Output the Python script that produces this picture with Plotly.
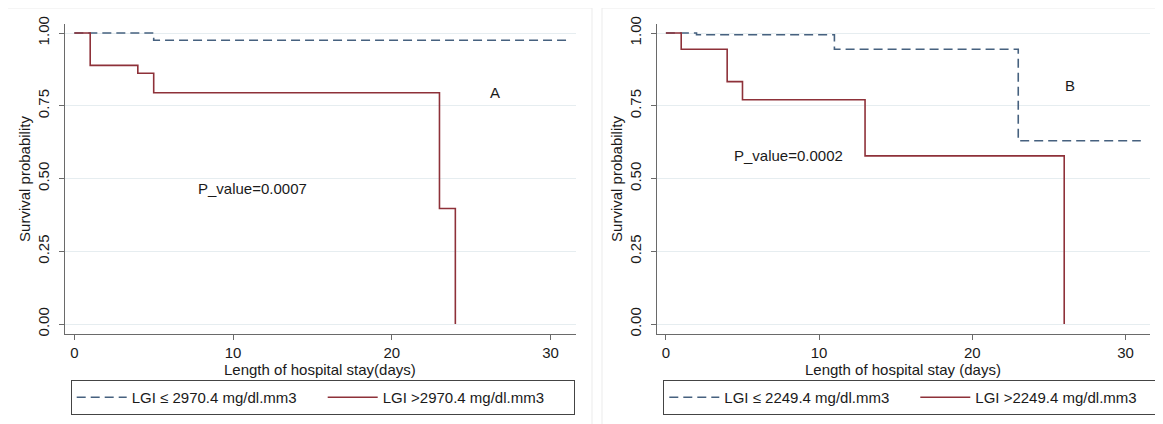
import plotly.graph_objects as go

# ---------------- data ----------------
# Panel A
a_low_days = [0, 5, 31]
a_low_surv = [1.0, 0.975, 0.975]
a_high_days = [0, 1, 4, 5, 23, 24]
a_high_surv = [1.0, 0.889, 0.862, 0.795, 0.397, 0.0]
# Panel B
b_low_days = [0, 2, 11, 23, 31]
b_low_surv = [1.0, 0.994, 0.944, 0.63, 0.63]
b_high_days = [0, 1, 4, 5, 13, 26]
b_high_surv = [1.0, 0.944, 0.833, 0.771, 0.578, 0.0]

a_names = ["LGI ≤ 2970.4 mg/dl.mm3", "LGI >2970.4 mg/dl.mm3"]
b_names = ["LGI ≤ 2249.4 mg/dl.mm3", "LGI >2249.4 mg/dl.mm3"]
x_ticks = [0, 10, 20, 30]
y_ticks = [0.0, 0.25, 0.5, 0.75, 1.0]
a_xtitle = "Length of hospital stay(days)"
b_xtitle = "Length of hospital stay (days)"
y_title = "Survival probability"
a_pvalue = "P_value=0.0007"
b_pvalue = "P_value=0.0002"

# ---------------- style ----------------
OFF = 8                      # page body margin
W, H = 1163 - OFF, 424 - OFF
BLUE = "#46617f"
RED = "#8e3139"
FONT = "Arial, Liberation Sans, sans-serif"
TXT = "#1a1a1a"
AX = "#6a6a6a"
GRID = "#e6edf0"

def px(v):
    return (v - OFF) / W

def py(v):
    return (H - (v - OFF)) / H

fig = go.Figure()

fig.add_trace(go.Scatter(x=a_low_days, y=a_low_surv, mode="lines", line_shape="hv",
                         line=dict(color=BLUE, width=1.6, dash="9px,5px"),
                         name=a_names[0], xaxis="x", yaxis="y", legend="legend"))
fig.add_trace(go.Scatter(x=a_high_days, y=a_high_surv, mode="lines", line_shape="hv",
                         line=dict(color=RED, width=1.6),
                         name=a_names[1], xaxis="x", yaxis="y", legend="legend"))
fig.add_trace(go.Scatter(x=b_low_days, y=b_low_surv, mode="lines", line_shape="hv",
                         line=dict(color=BLUE, width=1.6, dash="9px,5px"),
                         name=b_names[0], xaxis="x2", yaxis="y2", legend="legend2"))
fig.add_trace(go.Scatter(x=b_high_days, y=b_high_surv, mode="lines", line_shape="hv",
                         line=dict(color=RED, width=1.6),
                         name=b_names[1], xaxis="x2", yaxis="y2", legend="legend2"))

ydom = [py(334), py(24)]
xaxis_common = dict(range=[-0.6, 31.6], tickvals=x_ticks, ticks="outside", ticklen=5,
                    tickcolor=AX, showline=True, linecolor=AX, linewidth=1,
                    showgrid=False, zeroline=False, automargin=False, ticklabelstandoff=0,
                    tickfont=dict(family=FONT, size=15, color=TXT))
yaxis_common = dict(range=[-0.034, 1.031], tickvals=y_ticks, tickformat=".2f",
                    ticks="outside", ticklen=5, tickcolor=AX, tickangle=-90,
                    showline=True, linecolor=AX, linewidth=1, automargin=False,
                    ticklabelstandoff=4,
                    showgrid=True, gridcolor=GRID, gridwidth=1, zeroline=False,
                    tickfont=dict(family=FONT, size=15, color=TXT),
                    title=dict(text=y_title,
                               font=dict(family=FONT, size=15, color=TXT), standoff=0))

A_DOM = [px(64.8), px(576)]
B_DOM = [px(656.7), px(1150)]

fig.update_layout(
    width=W, height=H,
    margin=dict(l=0, r=0, t=0, b=0, autoexpand=False),
    paper_bgcolor="white", plot_bgcolor="white",
    font=dict(family=FONT, size=15, color=TXT),
    xaxis=dict(xaxis_common, domain=A_DOM, anchor="y"),
    yaxis=dict(yaxis_common, domain=ydom, anchor="x"),
    xaxis2=dict(xaxis_common, domain=B_DOM, anchor="y2"),
    yaxis2=dict(yaxis_common, domain=ydom, anchor="x2"),
    legend=dict(orientation="h", x=px(70.7), y=py(380), xanchor="left", yanchor="top",
                bordercolor="#444", borderwidth=1, entrywidth=186, entrywidthmode="pixels",
                font=dict(family=FONT, size=15, color=TXT), itemwidth=50),
    legend2=dict(orientation="h", x=px(663.3), y=py(380), xanchor="left", yanchor="top",
                 bordercolor="#444", borderwidth=1, entrywidth=186, entrywidthmode="pixels",
                 font=dict(family=FONT, size=15, color=TXT), itemwidth=50),
    showlegend=True,
)

# panel frames
fig.add_shape(type="rect", xref="paper", yref="paper", x0=px(7), x1=px(592), y0=py(430), y1=py(8),
              line=dict(color="#ebebeb", width=1), layer="below")
fig.add_shape(type="rect", xref="paper", yref="paper", x0=px(602), x1=px(1162), y0=py(430), y1=py(8),
              line=dict(color="#ebebeb", width=1), layer="below")

# x-axis titles (placed tight under the tick labels, as in the reference)
fig.add_annotation(x=(A_DOM[0] + A_DOM[1]) / 2, y=py(369), xref="paper", yref="paper",
                   text=a_xtitle, showarrow=False, xanchor="center", yanchor="middle",
                   font=dict(family=FONT, size=15, color=TXT))
fig.add_annotation(x=(B_DOM[0] + B_DOM[1]) / 2, y=py(369), xref="paper", yref="paper",
                   text=b_xtitle, showarrow=False, xanchor="center", yanchor="middle",
                   font=dict(family=FONT, size=15, color=TXT))

# in-plot annotations
fig.add_annotation(x=26.5, y=0.795, xref="x", yref="y", text="A", showarrow=False,
                   font=dict(family=FONT, size=15, color=TXT))
fig.add_annotation(x=11.2, y=0.467, xref="x", yref="y", text=a_pvalue, showarrow=False,
                   font=dict(family=FONT, size=15, color=TXT))
fig.add_annotation(x=26.4, y=0.82, xref="x2", yref="y2", text="B", showarrow=False,
                   font=dict(family=FONT, size=15, color=TXT))
fig.add_annotation(x=8.0, y=0.58, xref="x2", yref="y2", text=b_pvalue, showarrow=False,
                   font=dict(family=FONT, size=15, color=TXT))

fig.write_html("out.html")
